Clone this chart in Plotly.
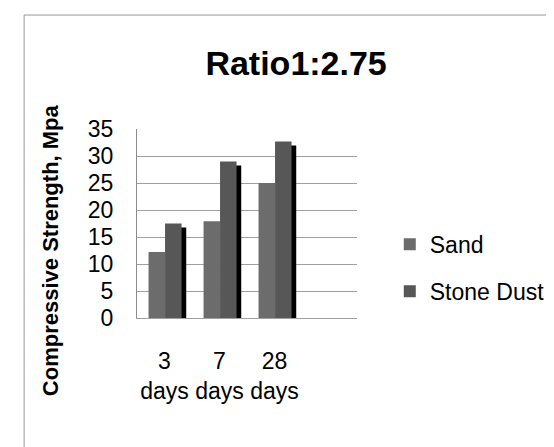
import plotly.graph_objects as go

# ---- data ----
categories = ["3<br>days", "7<br>days", "28<br>days"]
sand = [12.2, 17.9, 25.0]
stone_dust = [17.5, 29.0, 32.7]
y_ticks = [0, 5, 10, 15, 20, 25, 30, 35]

FONT = "Liberation Sans"
positions = list(range(len(categories)))

fig = go.Figure()
# drop shadow (3D depth side) behind the stone-dust bars
fig.add_trace(go.Bar(x=positions, y=stone_dust, base=-0.74, offset=0.095, width=0.30,
                     marker=dict(color="#000000", line=dict(width=0)),
                     showlegend=False, hoverinfo="skip"))
fig.add_trace(go.Bar(x=positions, y=sand, name="Sand", offset=-0.29, width=0.30,
                     marker=dict(color="#6c6c6c", line=dict(width=0)),
                     legendgroup="a"))
fig.add_trace(go.Bar(x=positions, y=stone_dust, name="Stone Dust", offset=0.01, width=0.30,
                     marker=dict(color="#575757", line=dict(width=0)),
                     legendgroup="b"))

fig.update_layout(
    width=554, height=447,
    margin=dict(l=129, r=197, t=121, b=137),
    paper_bgcolor="white", plot_bgcolor="white",
    barmode="overlay",
    font=dict(family=FONT, color="black", size=23),
    title=dict(text="<b>Ratio1:2.75</b>", x=0.52, xanchor="center",
               y=0.877, yanchor="middle",
               font=dict(family=FONT, size=34, color="black")),
    xaxis=dict(range=[-0.5, 3.5], tickmode="array", tickvals=positions,
               ticktext=categories, showgrid=False, zeroline=False,
               showline=True, linecolor="#a0a0a0", linewidth=1,
               ticks="", ticklabelstandoff=22,
               tickfont=dict(size=23, family=FONT, color="black")),
    yaxis=dict(range=[0, 35], tickmode="array", tickvals=y_ticks,
               showgrid=True, gridcolor="#a0a0a0", gridwidth=1, zeroline=False,
               showline=True, linecolor="#8c8c8c", linewidth=1,
               ticks="", ticklabelstandoff=18,
               tickfont=dict(size=23, family=FONT, color="black")),
    legend=dict(x=1.149, xanchor="left", y=0.265, yanchor="middle",
                traceorder="grouped", tracegroupgap=14,
                bgcolor="rgba(0,0,0,0)",
                font=dict(size=23, family=FONT, color="black")),
    annotations=[dict(text="<b>Compressive Strength, Mpa</b>", textangle=-90,
                      xref="paper", yref="paper", x=-0.39, y=0.36,
                      xanchor="center", yanchor="middle", showarrow=False,
                      font=dict(size=22, family=FONT, color="black"))],
    shapes=[dict(type="rect", xref="paper", yref="paper",
                 x0=-0.513, x1=1.95, y0=-0.709, y1=1.603,
                 line=dict(color="#999999", width=1), layer="below")],
)

fig.write_html("out.html")
